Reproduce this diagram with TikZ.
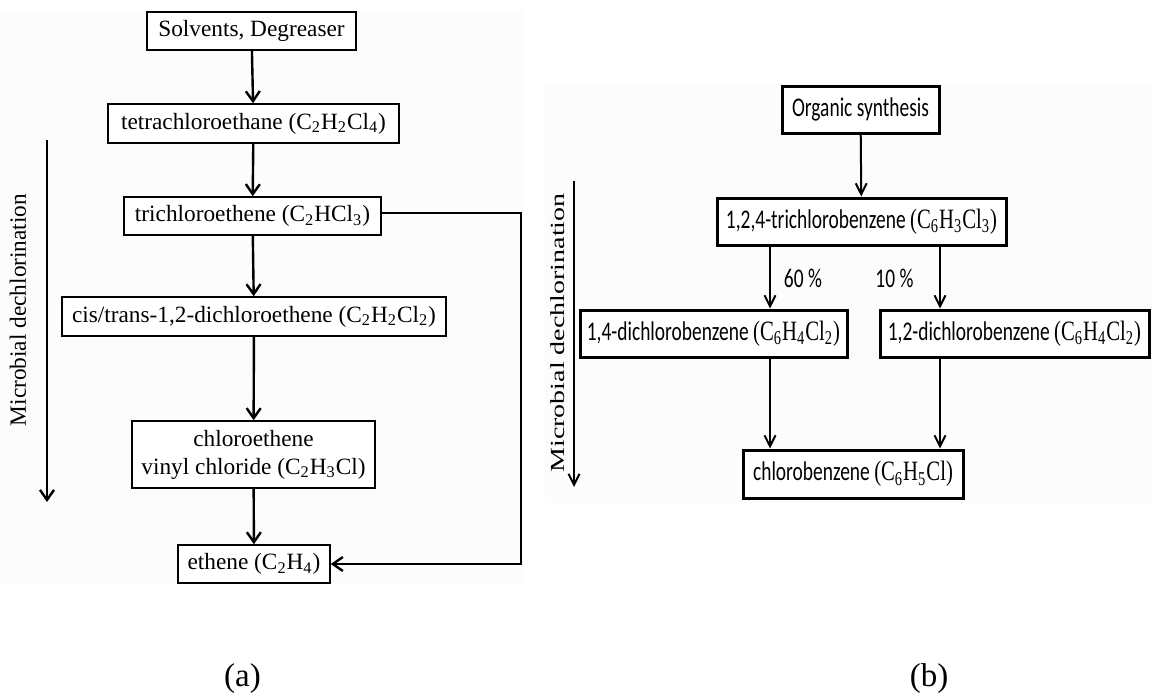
\documentclass[tikz,border=0pt]{standalone}
\usepackage{fontspec}
\setmainfont{Liberation Serif}
\newfontfamily\calibri[FakeStretch=0.72]{Carlito}
\newfontfamily\timesnarrow[FakeStretch=0.74]{Liberation Serif}
\newfontfamily\timeswide[FakeStretch=1.4]{Liberation Serif}
\usetikzlibrary{arrows.meta}

% chemical formula in the narrow serif face
\newcommand{\nformula}[1]{{\fontsize{14}{16}\timesnarrow #1}}

\begin{document}
\begin{tikzpicture}[x=0.5pt,y=-0.5pt,
  lbox/.style={draw, line width=0.75pt, fill=white, inner sep=0pt, align=center,
    font=\fontsize{11.65}{14}\selectfont},
  rbox/.style={draw, line width=1.5pt, fill=white, inner sep=0pt, align=center,
    font=\fontsize{13.5}{16}\calibri},
  larr/.style={line width=1.2pt, -{Straight Barb[length=5pt,width=7pt]}},
  rarr/.style={line width=1pt, -{Straight Barb[length=5.5pt,width=5.5pt]}},
  plain/.style={inner sep=0pt}]
\useasboundingbox (0,0) rectangle (1152,696);
\fill[white] (0,0) rectangle (1152,696);
\fill[black!1] (0,10) rectangle (523,583);
\fill[black!1] (545,83) rectangle (1152,503);

% ---------- (a) chlorinated ethenes ----------
\node[lbox, minimum width=104.5pt, minimum height=19pt] (src) at (251.5,31) {Solvents, Degreaser};
\node[lbox, minimum width=145.5pt, minimum height=19.5pt] (tca) at (253.5,123.5)
  {tetrachloroethane (C\textsubscript{2}H\textsubscript{2}Cl\textsubscript{4})};
\node[lbox, minimum width=128.5pt, minimum height=19pt] (tce) at (252.5,216)
  {trichloroethene (C\textsubscript{2}HCl\textsubscript{3})};
\node[lbox, minimum width=192pt, minimum height=19.5pt] (dce) at (254,316.5)
  {cis/trans-1,2-dichloroethene (C\textsubscript{2}H\textsubscript{2}Cl\textsubscript{2})};
\node[lbox, minimum width=121.5pt, minimum height=33.5pt] (vc) at (253.5,454.5)
  {chloroethene\\vinyl chloride (C\textsubscript{2}H\textsubscript{3}Cl)};
\node[lbox, minimum width=76pt, minimum height=19pt] (eth) at (254,564)
  {ethene (C\textsubscript{2}H\textsubscript{4})};

\draw[larr] (src) -- (tca);
\draw[larr] (tca) -- (tce);
\draw[larr] (tce) -- (dce);
\draw[larr] (dce) -- (vc);
\draw[larr] (vc) -- (eth);

\coordinate (fb) at (521,213);
\draw[larr] (tce.east |- fb) -- (fb) -- (fb |- eth.east) -- (eth.east);

\coordinate (la1) at (47,140);
\coordinate (la2) at (47,502);
\draw[larr] (la1) -- (la2);
\node[plain, rotate=90, font=\fontsize{11.65}{14}\selectfont] (lmd) at (18,310) {Microbial dechlorination};

\node[plain, font=\fontsize{16.5}{20}\selectfont] (capa) at (242.5,679) {(a)};

% ---------- (b) chlorinated benzenes ----------
\node[rbox, minimum width=78.5pt, minimum height=23.5pt] (org) at (860.5,109.5) {Organic synthesis};
\node[rbox, minimum width=144.5pt, minimum height=23.5pt] (tcb) at (861.5,221.5)
  {1,2,4-trichlorobenzene \nformula{(C\textsubscript{6}H\textsubscript{3}Cl\textsubscript{3})}};
\node[rbox, minimum width=133.5pt, minimum height=23.5pt] (dcbp) at (713.5,333.5)
  {1,4-dichlorobenzene \nformula{(C\textsubscript{6}H\textsubscript{4}Cl\textsubscript{2})}};
\node[rbox, minimum width=134.5pt, minimum height=23.5pt] (dcbo) at (1014.5,333.5)
  {1,2-dichlorobenzene \nformula{(C\textsubscript{6}H\textsubscript{4}Cl\textsubscript{2})}};
\node[rbox, minimum width=110pt, minimum height=24pt] (cb) at (853,474)
  {chlorobenzene \nformula{(C\textsubscript{6}H\textsubscript{5}Cl)}};

\coordinate (c60) at (770,0);
\coordinate (c10) at (940,0);
\draw[rarr] (org) -- (tcb);
\draw[rarr] (tcb.south -| c60) -- (dcbp.north -| c60);
\draw[rarr] (tcb.south -| c10) -- (dcbo.north -| c10);
\draw[rarr] (dcbp.south -| c60) -- (cb.north -| c60);
\draw[rarr] (dcbo.south -| c10) -- (cb.north -| c10);

\node[plain, font=\fontsize{13.5}{16}\calibri] (p60) at (803,278) {60\,\%};
\node[plain, font=\fontsize{13.5}{16}\calibri] (p10) at (894.5,278) {10\,\%};

\coordinate (ra1) at (574,181);
\coordinate (ra2) at (574,487);
\draw[rarr] (ra1) -- (ra2);
\node[plain, rotate=90, font=\fontsize{10}{12}\timeswide] (rmd) at (558,333) {Microbial dechlorination};

\node[plain, font=\fontsize{16.5}{20}\selectfont] (capb) at (929,679) {(b)};
\end{tikzpicture}
\end{document}
